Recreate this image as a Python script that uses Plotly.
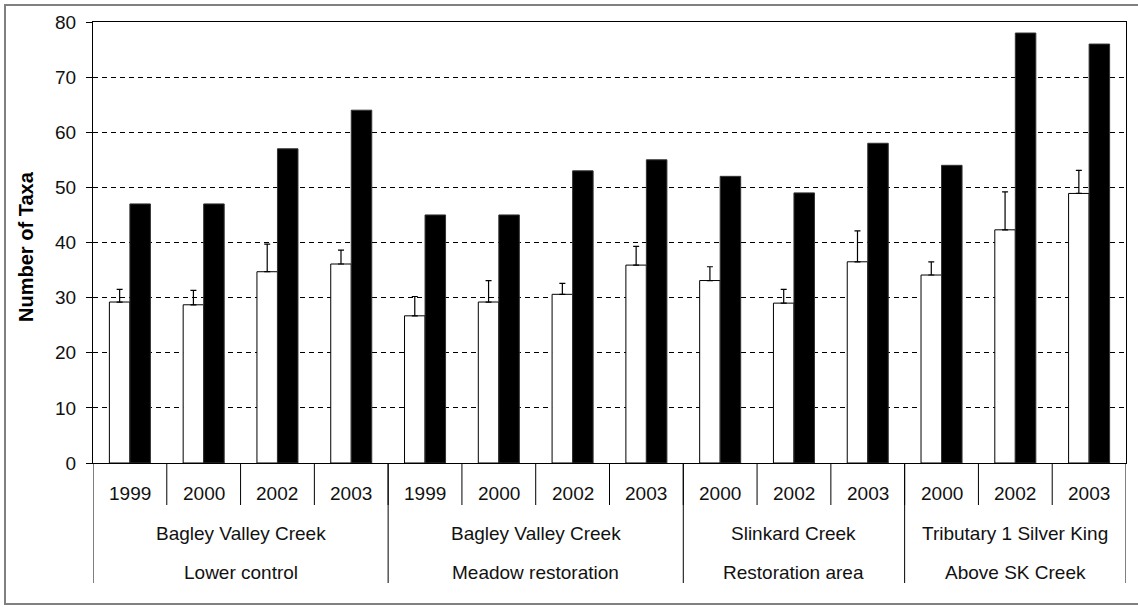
import plotly.graph_objects as go

# ---- data ----
years = ["1999", "2000", "2002", "2003",
         "1999", "2000", "2002", "2003",
         "2000", "2002", "2003",
         "2000", "2002", "2003"]
sites = ["Bagley Valley Creek", "Bagley Valley Creek", "Slinkard Creek", "Tributary 1 Silver King"]
areas = ["Lower control", "Meadow restoration", "Restoration area", "Above SK Creek"]
group_sizes = [4, 4, 3, 3]

mean_taxa = [29.2, 28.7, 34.7, 36.1, 26.7, 29.2, 30.6, 35.9, 33.1, 29.0, 36.5, 34.1, 42.3, 48.9]
mean_err = [2.3, 2.6, 5.0, 2.5, 3.5, 3.9, 2.0, 3.4, 2.5, 2.5, 5.6, 2.4, 6.9, 4.2]
total_taxa = [47, 47, 57, 64, 45, 45, 53, 55, 52, 49, 58, 54, 78, 76]

y_ticks = [0, 10, 20, 30, 40, 50, 60, 70, 80]

# ---- layout constants ----
W, H = 1138, 607
ML, MR, MT, MB = 93, 12, 22, 144
PW, PH = W - ML - MR, H - MT - MB
FONT = "Liberation Sans, Arial, sans-serif"
FS = 18
FSX = 19
TXT = "#111111"


def py(px):
    """pixel row -> paper y"""
    return (MT + PH - px) / PH


def pxx(px):
    return (px - ML) / PW


xs = list(range(len(years)))

fig = go.Figure()
fig.add_trace(go.Bar(
    x=xs, y=mean_taxa, name="Mean taxa",
    marker=dict(color="white", line=dict(color="black", width=1)),
    error_y=dict(type="data", symmetric=False, array=mean_err,
                 arrayminus=[0] * len(mean_err),
                 color="black", thickness=1.2, width=3),
))
fig.add_trace(go.Bar(
    x=xs, y=total_taxa, name="Total taxa",
    marker=dict(color="black", line=dict(color="#333333", width=1)),
))

shapes = []
annotations = []

# year-level dividers
for i in range(1, len(years)):
    shapes.append(dict(type="line", xref="x", yref="paper",
                       x0=i - 0.5, x1=i - 0.5, y0=0, y1=py(505),
                       line=dict(color="black", width=1)))
# group-level dividers and labels
bounds = [0]
for g in group_sizes:
    bounds.append(bounds[-1] + g)
for b in bounds:
    shapes.append(dict(type="line", xref="x", yref="paper",
                       x0=b - 0.5, x1=b - 0.5, y0=0, y1=py(583),
                       line=dict(color="black", width=1)))
for k in range(len(group_sizes)):
    cx = (bounds[k] + bounds[k + 1] - 1) / 2
    annotations.append(dict(x=cx, y=py(533), xref="x", yref="paper",
                            text=sites[k], showarrow=False,
                            xanchor="center", yanchor="middle",
                            font=dict(family=FONT, size=FSX, color=TXT)))
    annotations.append(dict(x=cx, y=py(572), xref="x", yref="paper",
                            text=areas[k], showarrow=False,
                            xanchor="center", yanchor="middle",
                            font=dict(family=FONT, size=FSX, color=TXT)))
for i, yr in enumerate(years):
    annotations.append(dict(x=i, y=py(493), xref="x", yref="paper",
                            text=yr, showarrow=False,
                            xanchor="center", yanchor="middle",
                            font=dict(family=FONT, size=FSX, color=TXT)))

# y-axis title
annotations.append(dict(x=pxx(26), y=0.49, xref="paper", yref="paper",
                        text="<b>Number of Taxa</b>", showarrow=False,
                        textangle=-90, xanchor="center", yanchor="middle",
                        font=dict(family=FONT, size=20, color="black")))

# outer frame (right side cut off)
shapes.append(dict(type="rect", xref="paper", yref="paper",
                   x0=pxx(5), x1=pxx(1160), y0=py(604), y1=py(5),
                   line=dict(color="#808080", width=2), layer="below"))

fig.update_layout(
    width=W, height=H,
    margin=dict(l=ML, r=MR, t=MT, b=MB),
    paper_bgcolor="white", plot_bgcolor="white",
    barmode="group", bargap=0.444, bargroupgap=0,
    showlegend=False,
    shapes=shapes, annotations=annotations,
    font=dict(family=FONT, size=FS, color=TXT),
    xaxis=dict(range=[-0.5, len(years) - 0.5], showticklabels=False,
               ticks="", showgrid=False, zeroline=False,
               showline=True, linecolor="black", linewidth=1, mirror=True),
    yaxis=dict(range=[0, 80], tickvals=y_ticks, ticks="outside", ticklen=6,
               tickcolor="black", showline=True, linecolor="black", linewidth=1,
               mirror=True, showgrid=True, gridcolor="black", gridwidth=1,
               griddash="5px,4px", zeroline=False,
               tickfont=dict(family=FONT, size=FSX, color=TXT),
               ticklabelstandoff=6),
)

fig.write_html("out.html")
